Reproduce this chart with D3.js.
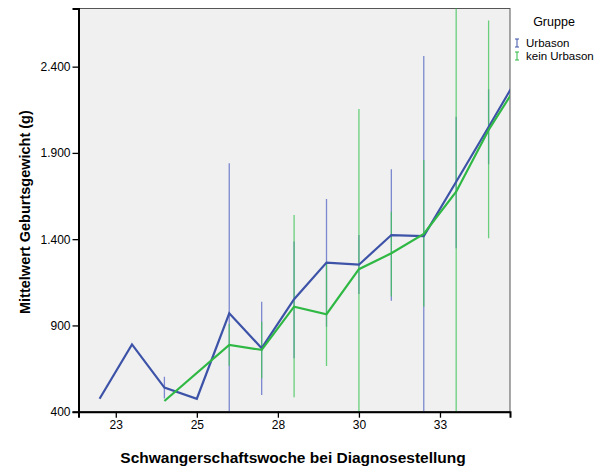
<!DOCTYPE html>
<html>
<head>
<meta charset="utf-8">
<script src="https://cdn.jsdelivr.net/npm/d3@7"></script>
<style>
  body { margin: 0; background: #ffffff; }
  svg { display: block; font-family: 'Liberation Sans', Arial, sans-serif; }
</style>
</head>
<body>
<script>
// weeks of pregnancy (Schwangerschaftswoche)
const weeks = [22, 23, 24, 25, 26, 27, 28, 29, 30, 31, 32, 33, 34, 35];

// Urbason: mean birth weight and 95% CI
const urbasonMean = [475, 790, 540, 475, 970, 768, 1052, 1264, 1252, 1424, 1418, 1733, 2050, 2372];
const urbasonLow  = [null, null, 477, null, 100, 497, 710, 893, 1082, 1043, 375, 1347, 1834, null];
const urbasonHigh = [null, null, 603, null, 1840, 1038, 1386, 1633, 1424, 1805, 2462, 2110, 2269, null];

// kein Urbason
const keinMean = [null, null, 462, null, 787, 758, 1009, 965, 1226, 1318, 1430, 1675, 2033, 2329];
const keinLow  = [null, null, null, null, 667, 594, 484, 665, 296, 1067, 1009, 150, 1405, null];
const keinHigh = [null, null, null, null, 908, 922, 1540, 1264, 2155, 1559, 1859, 3200, 2667, null];

const xTickValues = [22.5, 25, 27.5, 30, 32.5];
const xTickLabels = ['23', '25', '28', '30', '33'];
const yTickValues = [400, 900, 1400, 1900, 2400];
const yTickLabels = ['400', '900', '1.400', '1.900', '2.400'];

const groups = ['Urbason', 'kein Urbason'];

const C = {
  width: 596,
  height: 467,
  left: 78.5,
  right: 510,
  top: 8.5,
  bottom: 411.7,
  plotBg: '#f0f0f0',
  colors: { 'Urbason': '#3d53a8', 'kein Urbason': '#2fb844' },
  barColors: { 'Urbason': '#5566c4', 'kein Urbason': '#3cc455' },
};

const svg = d3.select('body').append('svg')
  .attr('width', C.width)
  .attr('height', C.height);

const x = d3.scaleLinear().domain([21.35, 34.66]).range([C.left, C.right]);
const y = d3.scaleLinear().domain([400, 2737]).range([C.bottom, C.top]);

// plot background
svg.append('rect')
  .attr('x', C.left).attr('y', C.top)
  .attr('width', C.right - C.left).attr('height', C.bottom - C.top)
  .style('fill', C.plotBg)
  .style('stroke', '#555')
  .style('stroke-width', 1);

svg.append('clipPath').attr('id', 'plot-clip')
  .append('rect')
  .attr('x', C.left).attr('y', C.top)
  .attr('width', C.right - C.left).attr('height', C.bottom - C.top);

const series = [
  { name: 'Urbason', mean: urbasonMean, low: urbasonLow, high: urbasonHigh },
  { name: 'kein Urbason', mean: keinMean, low: keinLow, high: keinHigh },
];

const plot = svg.append('g').attr('clip-path', 'url(#plot-clip)');

// error bars first
for (const s of series) {
  const bars = weeks.map((w, i) => ({ w, lo: s.low[i], hi: s.high[i] })).filter(d => d.lo != null);
  plot.append('g').selectAll('line')
    .data(bars)
    .enter()
    .append('line')
    .attr('x1', d => x(d.w)).attr('x2', d => x(d.w))
    .attr('y1', d => y(d.lo)).attr('y2', d => y(d.hi))
    .style('stroke', C.barColors[s.name])
    .style('stroke-opacity', 0.75)
    .style('stroke-width', 1.3);
}

const line = d3.line().x(d => x(d.w)).y(d => y(d.v));

for (const s of series) {
  const pts = weeks.map((w, i) => ({ w, v: s.mean[i] })).filter(d => d.v != null);
  plot.append('path')
    .datum(pts)
    .attr('d', line)
    .style('fill', 'none')
    .style('stroke', C.colors[s.name])
    .style('stroke-width', 2.2)
    .style('stroke-linejoin', 'miter');
}

// axes
const xAxis = d3.axisBottom(x)
  .tickValues(xTickValues)
  .tickFormat((d, i) => xTickLabels[i])
  .tickSizeOuter(0)
  .tickSize(6)
  .tickPadding(3);

const yAxis = d3.axisLeft(y)
  .tickValues(yTickValues)
  .tickFormat((d, i) => yTickLabels[i])
  .tickSizeOuter(0)
  .tickSize(6)
  .tickPadding(2);

const gx = svg.append('g').attr('transform', `translate(0,${C.bottom})`).call(xAxis);
const gy = svg.append('g').attr('transform', `translate(${C.left},0)`).call(yAxis);

for (const g of [gx, gy]) {
  g.select('.domain').style('stroke', '#000').style('stroke-width', 2);
  g.selectAll('.tick line').style('stroke', '#000').style('stroke-width', 1.3);
  g.selectAll('.tick text')
    .style('font-size', '12px')
    .style('font-family', "'Liberation Sans', Arial, sans-serif")
    .style('fill', '#000');
}

// axis titles
svg.append('text')
  .attr('x', 293)
  .attr('y', 463)
  .attr('text-anchor', 'middle')
  .style('font-size', '15.5px')
  .style('font-weight', 'bold')
  .text('Schwangerschaftswoche bei Diagnosestellung');

svg.append('text')
  .attr('transform', `translate(30,${(C.top + C.bottom) / 2 + 2}) rotate(-90)`)
  .attr('text-anchor', 'middle')
  .style('font-size', '14.5px')
  .style('font-weight', 'bold')
  .text('Mittelwert Geburtsgewicht (g)');

// legend
const legend = svg.append('g');
legend.append('text')
  .attr('x', 554).attr('y', 26)
  .attr('text-anchor', 'middle')
  .style('font-size', '12.5px')
  .text('Gruppe');

groups.forEach((name, i) => {
  const ly = 43 + i * 13;
  const g = legend.append('g');
  const col = C.colors[name];
  g.append('line').attr('x1', 517).attr('x2', 517).attr('y1', ly - 4).attr('y2', ly + 4)
    .style('stroke', col).style('stroke-width', 1);
  g.append('line').attr('x1', 515).attr('x2', 519).attr('y1', ly - 4).attr('y2', ly - 4)
    .style('stroke', col).style('stroke-width', 1);
  g.append('line').attr('x1', 515).attr('x2', 519).attr('y1', ly + 4).attr('y2', ly + 4)
    .style('stroke', col).style('stroke-width', 1);
  g.append('text')
    .attr('x', 526).attr('y', ly + 4)
    .style('font-size', '11.5px')
    .text(name);
});
</script>
</body>
</html>
